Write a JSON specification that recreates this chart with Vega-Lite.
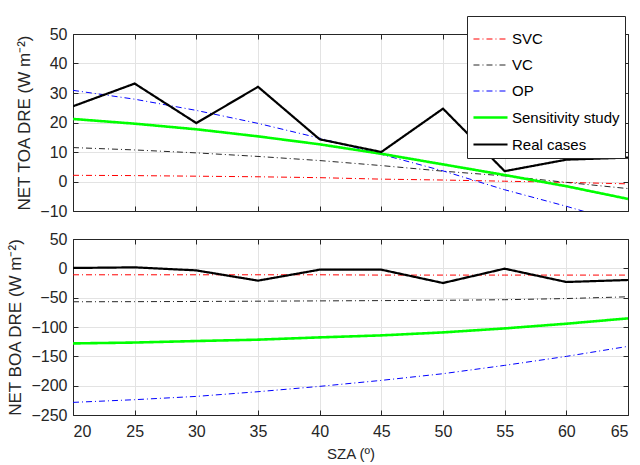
{
  "$schema": "https://vega.github.io/schema/vega-lite/v6.json",
  "padding": {"left": 6, "top": 15, "right": 5, "bottom": 2},
  "background": "white",
  "spacing": 6,
  "config": {
    "font": "Liberation Sans",
    "view": {"stroke": null},
    "axis": {
      "labelFontSize": 16,
      "labelColor": "#262626",
      "titleFontSize": 17,
      "titleFontWeight": "normal",
      "titleColor": "#262626",
      "domain": true,
      "domainColor": "#262626",
      "tickColor": "#262626",
      "tickSize": -5,
      "gridColor": "#e3e3e3",
      "labelPadding": 11
    },
    "axisX": {"labelPadding": 13, "titleFontSize": 15},
    "legend": {
      "orient": "none", "title": null, "fillColor": "white", "strokeColor": "#262626",
      "padding": 5, "labelFontSize": 15, "labelColor": "#000000", "symbolType": "stroke",
      "symbolSize": 1160, "rowPadding": -8, "labelOffset": 3
    }
  },
  "datasets": {
    "toa": [
      {"sza":20,"series":"SVC","v":2.1},{"sza":25,"series":"SVC","v":2.0},{"sza":30,"series":"SVC","v":1.8},{"sza":35,"series":"SVC","v":1.6},{"sza":40,"series":"SVC","v":1.3},{"sza":45,"series":"SVC","v":0.8},{"sza":50,"series":"SVC","v":0.5},{"sza":55,"series":"SVC","v":0.1},{"sza":60,"series":"SVC","v":-0.3},{"sza":65,"series":"SVC","v":-0.8},
      {"sza":20,"series":"VC","v":11.5},{"sza":25,"series":"VC","v":10.7},{"sza":30,"series":"VC","v":9.7},{"sza":35,"series":"VC","v":8.5},{"sza":40,"series":"VC","v":7.1},{"sza":45,"series":"VC","v":5.4},{"sza":50,"series":"VC","v":3.5},{"sza":55,"series":"VC","v":1.9},{"sza":60,"series":"VC","v":-0.3},{"sza":65,"series":"VC","v":-2.4},
      {"sza":20,"series":"OP","v":30.9},{"sza":25,"series":"OP","v":27.9},{"sza":30,"series":"OP","v":24.1},{"sza":35,"series":"OP","v":19.7},{"sza":40,"series":"OP","v":14.7},{"sza":45,"series":"OP","v":9.2},{"sza":50,"series":"OP","v":3.6},{"sza":55,"series":"OP","v":-2.8},{"sza":60,"series":"OP","v":-8.4},{"sza":65,"series":"OP","v":-14.5},
      {"sza":20,"series":"Sensitivity study","v":21.2},{"sza":25,"series":"Sensitivity study","v":19.6},{"sza":30,"series":"Sensitivity study","v":17.7},{"sza":35,"series":"Sensitivity study","v":15.3},{"sza":40,"series":"Sensitivity study","v":12.6},{"sza":45,"series":"Sensitivity study","v":9.4},{"sza":50,"series":"Sensitivity study","v":5.8},{"sza":55,"series":"Sensitivity study","v":2.2},{"sza":60,"series":"Sensitivity study","v":-1.6},{"sza":65,"series":"Sensitivity study","v":-5.9},
      {"sza":20,"series":"Real cases","v":25.5},{"sza":25,"series":"Real cases","v":33.2},{"sza":30,"series":"Real cases","v":19.8},{"sza":35,"series":"Real cases","v":32.1},{"sza":40,"series":"Real cases","v":14.3},{"sza":45,"series":"Real cases","v":10.0},{"sza":50,"series":"Real cases","v":24.7},{"sza":55,"series":"Real cases","v":3.5},{"sza":60,"series":"Real cases","v":7.4},{"sza":65,"series":"Real cases","v":8.1}
    ],
    "boa": [
      {"sza":20,"series":"SVC","v":-11},{"sza":25,"series":"SVC","v":-11},{"sza":30,"series":"SVC","v":-11},{"sza":35,"series":"SVC","v":-11},{"sza":40,"series":"SVC","v":-11},{"sza":45,"series":"SVC","v":-11.5},{"sza":50,"series":"SVC","v":-11.5},{"sza":55,"series":"SVC","v":-11.5},{"sza":60,"series":"SVC","v":-11.5},{"sza":65,"series":"SVC","v":-11.5},
      {"sza":20,"series":"VC","v":-57},{"sza":25,"series":"VC","v":-56.8},{"sza":30,"series":"VC","v":-56.5},{"sza":35,"series":"VC","v":-56},{"sza":40,"series":"VC","v":-55.5},{"sza":45,"series":"VC","v":-55},{"sza":50,"series":"VC","v":-54.5},{"sza":55,"series":"VC","v":-53.5},{"sza":60,"series":"VC","v":-51.5},{"sza":65,"series":"VC","v":-48.5},
      {"sza":20,"series":"OP","v":-228.5},{"sza":25,"series":"OP","v":-223.9},{"sza":30,"series":"OP","v":-218.3},{"sza":35,"series":"OP","v":-210.3},{"sza":40,"series":"OP","v":-201.2},{"sza":45,"series":"OP","v":-191},{"sza":50,"series":"OP","v":-179.6},{"sza":55,"series":"OP","v":-165.4},{"sza":60,"series":"OP","v":-150.1},{"sza":65,"series":"OP","v":-133},
      {"sza":20,"series":"Sensitivity study","v":-128},{"sza":25,"series":"Sensitivity study","v":-126.5},{"sza":30,"series":"Sensitivity study","v":-123.9},{"sza":35,"series":"Sensitivity study","v":-121.6},{"sza":40,"series":"Sensitivity study","v":-117.7},{"sza":45,"series":"Sensitivity study","v":-114.3},{"sza":50,"series":"Sensitivity study","v":-109.2},{"sza":55,"series":"Sensitivity study","v":-102.4},{"sza":60,"series":"Sensitivity study","v":-94.4},{"sza":65,"series":"Sensitivity study","v":-85.3},
      {"sza":20,"series":"Real cases","v":0.6},{"sza":25,"series":"Real cases","v":1.7},{"sza":30,"series":"Real cases","v":-3.5},{"sza":35,"series":"Real cases","v":-21},{"sza":40,"series":"Real cases","v":-2.3},{"sza":45,"series":"Real cases","v":-2.3},{"sza":50,"series":"Real cases","v":-25},{"sza":55,"series":"Real cases","v":-0.6},{"sza":60,"series":"Real cases","v":-23.3},{"sza":65,"series":"Real cases","v":-19.9}
    ]
  },
  "resolve": {"legend": {"color": "independent", "strokeDash": "independent", "strokeWidth": "independent"}},
  "vconcat": [
    {
      "width": 555,
      "height": 177,
      "data": {"name": "toa"},
      "resolve": {"axis": {"x": "independent", "y": "independent"}},
      "layer": [
        {
          "mark": {"type": "line", "clip": true},
          "encoding": {
            "x": {"field": "sza", "type": "quantitative", "scale": {"domain": [20, 65], "nice": false},
                  "axis": {"values": [20,25,30,35,40,45,50,55,60,65], "labels": false, "title": null}},
            "y": {"field": "v", "type": "quantitative", "scale": {"domain": [-10, 50], "nice": false},
                  "axis": {"values": [-10,0,10,20,30,40,50], "title": "NET TOA DRE (W m⁻²)", "titlePadding": 6}},
            "color": {"field": "series", "type": "nominal",
                      "scale": {"domain": ["SVC","VC","OP","Sensitivity study","Real cases"], "range": ["#ff0000","#262626","#0000ff","#00ff00","#000000"]},
                      "legend": {"legendX": 394, "legendY": -18, "labelExpr": "datum.label + ' '",
                                 "encode": {"symbols": {"update": {
                                   "stroke": {"signal": "datum.value === 'SVC' ? '#ff0000' : datum.value === 'OP' ? '#0000ff' : datum.value === 'Sensitivity study' ? '#00ff00' : datum.value === 'VC' ? '#262626' : '#000000'"},
                                   "strokeDash": {"signal": "datum.value === 'SVC' || datum.value === 'VC' || datum.value === 'OP' ? [6,3,1,3] : [1,0]"},
                                   "strokeWidth": {"signal": "datum.value === 'Sensitivity study' ? 2.6 : datum.value === 'Real cases' ? 2.2 : 1"}
                                 }}}}},
            "strokeDash": {"field": "series", "type": "nominal",
                      "scale": {"domain": ["SVC","VC","OP","Sensitivity study","Real cases"], "range": [[6,3,1,3],[6,3,1,3],[6,3,1,3],[1,0],[1,0]]},
                      "legend": null},
            "strokeWidth": {"field": "series", "type": "ordinal",
                      "scale": {"type": "ordinal", "domain": ["SVC","VC","OP","Sensitivity study","Real cases"], "range": [1,1,1,2.6,2.2]},
                      "legend": null}
          }
        },
        {
          "mark": {"type": "line", "opacity": 0},
          "encoding": {
            "x": {"field": "sza", "type": "quantitative", "axis": {"orient": "top", "values": [20,25,30,35,40,45,50,55,60,65], "labels": false, "grid": false, "title": null}},
            "y": {"field": "v", "type": "quantitative", "axis": {"orient": "right", "values": [-10,0,10,20,30,40,50], "labels": false, "grid": false, "title": null}}
          }
        }
      ]
    },
    {
      "width": 555,
      "height": 176,
      "data": {"name": "boa"},
      "resolve": {"axis": {"x": "independent", "y": "independent"}},
      "layer": [
        {
          "mark": {"type": "line", "clip": true},
          "encoding": {
            "x": {"field": "sza", "type": "quantitative", "scale": {"domain": [20, 65], "nice": false},
                  "axis": {"values": [20,25,30,35,40,45,50,55,60,65], "title": "SZA (º)", "titlePadding": 7}},
            "y": {"field": "v", "type": "quantitative", "scale": {"domain": [-250, 50], "nice": false},
                  "axis": {"values": [-250,-200,-150,-100,-50,0,50], "title": "NET BOA DRE (W m⁻²)", "titlePadding": 6}},
            "color": {"field": "series", "type": "nominal",
                      "scale": {"domain": ["SVC","VC","OP","Sensitivity study","Real cases"], "range": ["#ff0000","#262626","#0000ff","#00ff00","#000000"]}, "legend": null},
            "strokeDash": {"field": "series", "type": "nominal",
                      "scale": {"domain": ["SVC","VC","OP","Sensitivity study","Real cases"], "range": [[6,3,1,3],[6,3,1,3],[6,3,1,3],[1,0],[1,0]]}, "legend": null},
            "strokeWidth": {"field": "series", "type": "ordinal",
                      "scale": {"type": "ordinal", "domain": ["SVC","VC","OP","Sensitivity study","Real cases"], "range": [1,1,1,2.6,2.2]}, "legend": null}
          }
        },
        {
          "mark": {"type": "line", "opacity": 0},
          "encoding": {
            "x": {"field": "sza", "type": "quantitative", "axis": {"orient": "top", "values": [20,25,30,35,40,45,50,55,60,65], "labels": false, "grid": false, "title": null}},
            "y": {"field": "v", "type": "quantitative", "axis": {"orient": "right", "values": [-250,-200,-150,-100,-50,0,50], "labels": false, "grid": false, "title": null}}
          }
        }
      ]
    }
  ]
}
